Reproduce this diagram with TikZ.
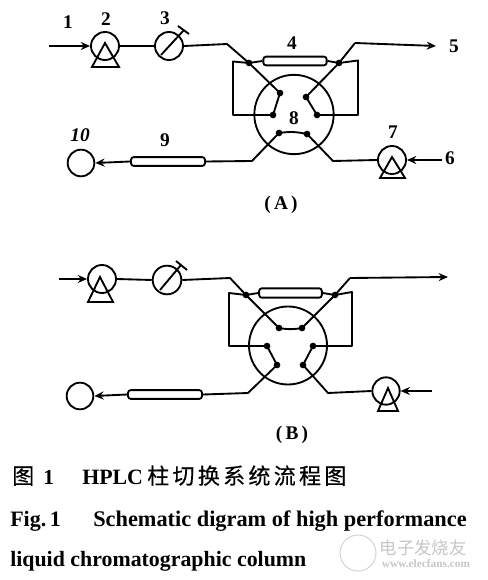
\documentclass[tikz,border=0pt]{standalone}
\usepackage{fontspec}
\setmainfont{Liberation Serif}
\newfontfamily\cjk[LetterSpace=15,FakeBold=0.4]{Noto Sans CJK SC}
\newfontfamily\cjkb[FakeBold=0.4]{Noto Sans CJK SC}
\newfontfamily\cjkw{Noto Sans CJK SC}
\usetikzlibrary{arrows.meta}
\tikzset{
  ln/.style={line width=1.4pt,line join=round},
  flow/.style={ln,-{Stealth[length=7pt,width=6pt]}},
  unit/.style={circle,draw,line width=1.4pt,inner sep=0pt,minimum size=#1},
  dotn/.style={circle,fill=black,inner sep=0pt,minimum size=5pt},
  col/.style={draw,line width=1.4pt,fill=white,rounded corners=2pt},
  lab/.style={font=\fontsize{14.5}{15}\selectfont\bfseries,inner sep=0pt},
  captxt/.style={anchor=base west,inner sep=0pt,font=\fontsize{16.5}{17}\selectfont\bfseries},
  wm/.style={text=black!22,inner sep=0pt}
}
\begin{document}
\begin{tikzpicture}[x=0.75pt,y=-0.75pt]
\useasboundingbox[fill=white] (0,0) rectangle (487,580);
% ---------- A ----------
\coordinate (Ain) at (49,46);
\node[unit=21pt] (Ap) at (105,46) {};
\draw[ln,line join=miter] (105,43) -- (92,67) -- (119,67) -- cycle;
\node[unit=21pt] (Am) at (169,46) {};
\coordinate (As1) at (161,55); \coordinate (As2) at (184,30);
\coordinate (At1) at (178,26); \coordinate (At2) at (189,34);
\draw[ln] (As1) -- (As2); \draw[ln] (At1) -- (At2);
\draw[flow] (Ain) -- (Ap.west);
\draw[ln] (Ap.east) -- (Am.west);
\node[unit=59.5pt] (Av) at (294,114.5) {};
\node[dotn] (Aa) at (280,93) {};
\node[dotn] (Ab) at (306,97) {};
\node[dotn] (Ac) at (273,115) {};
\node[dotn] (Ad) at (317,115) {};
\node[dotn] (Ae) at (279,133) {};
\node[dotn] (Af) at (307,134) {};
\node[dotn] (Ag) at (249,63) {};
\node[dotn] (Ah) at (339,63) {};
\coordinate (A1) at (227,44); \coordinate (A2) at (355,43); \coordinate (A5) at (436,46);
\coordinate (Abl) at (233,61.5); \coordinate (Abb) at (233,115);
\coordinate (Abr) at (358,60.5); \coordinate (Abc) at (358,115);
\draw[ln] (Am.east) -- (A1) -- (Ag.center) -- (Aa.center) -- (Ac.center) -- (Abb) -- (Abl) -- (Ag.center);
\draw[ln] (Ad.center) -- (Abc) -- (Abr) -- (Ah.center);
\draw[ln] (Ad.center) -- (Ab.center) -- (Ah.center) -- (A2);
\draw[flow] (A2) -- (A5);
\node[col,minimum width=47.5pt,minimum height=6.5pt,inner sep=0pt] (Ac4) at (295,61) {};
\draw[ln] (Ag.center) -- (Ac4.west) (Ac4.east) -- (Ah.center);
\draw[ln] (Ae.center) to[bend left=10] (Af.center);
\node[col,minimum width=55.5pt,minimum height=6.5pt,inner sep=0pt] (Ac9) at (168,161.5) {};
\node[unit=20pt] (Ad10) at (81,163) {};
\coordinate (A3) at (252,161); \coordinate (A4) at (333,161);
\draw[ln] (Ae.center) -- (A3) -- (Ac9.east);
\draw[flow] (Ac9.west) -- (Ad10.east);
\node[unit=21pt] (Ap7) at (392,160) {};
\draw[ln,line join=miter] (392,157) -- (380,178) -- (405,178) -- cycle;
\draw[ln] (Af.center) -- (A4) -- (Ap7.west);
\coordinate (A6) at (442,160);
\draw[flow] (A6) -- (Ap7.east);
\node[lab] (l1) at (68,22) {1};
\node[lab] (l2) at (106,19) {2};
\node[lab] (l3) at (165,18) {3};
\node[lab] (l4) at (292,43) {4};
\node[lab] (l5) at (454,46) {5};
\node[lab] (l6) at (450,158) {6};
\node[lab] (l7) at (393,132) {7};
\node[lab] (l8) at (294,118) {8};
\node[lab] (l9) at (165,140) {9};
\node[lab,font=\fontsize{14.5}{15}\selectfont\itshape\bfseries] (l10) at (80,135) {10};
\node[lab] (lA) at (281,205) {(\,A\,)};
% ---------- B ----------
\coordinate (Bin) at (59,279);
\node[unit=21pt] (Bp) at (102,279) {};
\draw[ln,line join=miter] (100,277) -- (88,302) -- (113,302) -- cycle;
\node[unit=21.5pt] (Bm) at (167,280) {};
\coordinate (Bs1) at (160,290); \coordinate (Bs2) at (181,265);
\coordinate (Bt1) at (176,261); \coordinate (Bt2) at (187,270);
\draw[ln] (Bs1) -- (Bs2); \draw[ln] (Bt1) -- (Bt2);
\draw[flow] (Bin) -- (Bp.west);
\draw[ln] (Bp.east) -- (Bm.west);
\node[unit=58.5pt] (Bv) at (288,345.5) {};
\node[dotn] (Ba) at (279,328) {};
\node[dotn] (Bb) at (302,328) {};
\node[dotn] (Bc) at (267,346) {};
\node[dotn] (Bd) at (313,346) {};
\node[dotn] (Be) at (277,365) {};
\node[dotn] (Bf) at (303,365) {};
\node[dotn] (Bg) at (246,295) {};
\node[dotn] (Bh) at (335,295) {};
\coordinate (B1) at (230,278); \coordinate (B2) at (350,278); \coordinate (B5) at (448,277);
\coordinate (Bbl) at (229,293); \coordinate (Bbb) at (229,346);
\coordinate (Bbr) at (352,292); \coordinate (Bbc) at (352,346);
\draw[ln] (Bm.east) -- (B1) -- (Bg.center) -- (Ba.center);
\draw[ln] (Bg.center) -- (Bbl) -- (Bbb) -- (Bc.center) -- (Be.center);
\draw[ln] (Bd.center) -- (Bbc) -- (Bbr) -- (Bh.center);
\draw[ln] (Bd.center) -- (Bf.center);
\draw[ln] (Bb.center) -- (Bh.center) -- (B2);
\draw[flow] (B2) -- (B5);
\node[col,minimum width=47pt,minimum height=7pt,inner sep=0pt] (Bc4) at (290.5,293) {};
\draw[ln] (Bg.center) -- (Bc4.west) (Bc4.east) -- (Bh.center);
\draw[ln] (Ba.center) to[bend right=10] (Bb.center);
\node[col,minimum width=55.5pt,minimum height=6.5pt,inner sep=0pt] (Bc9) at (165,394.5) {};
\node[unit=20pt] (Bd10) at (80,396) {};
\coordinate (B3) at (248,393); \coordinate (B4) at (328,393);
\draw[ln] (Be.center) -- (B3) -- (Bc9.east);
\draw[flow] (Bc9.west) -- (Bd10.east);
\node[unit=20.5pt] (Bp7) at (386,391) {};
\draw[ln,line join=miter] (388,388) -- (378,411) -- (398,411) -- cycle;
\draw[ln] (Bf.center) -- (B4) -- (Bp7.west);
\coordinate (B6) at (432,391);
\draw[flow] (B6) -- (Bp7.east);
\node[lab] (lB) at (292,435) {(\,B\,)};
% ---------- captions ----------
\node[captxt,font=\fontsize{16.5}{17}\selectfont\cjkb] (c0) at (12,484) {图};
\node[captxt,font=\fontsize{16}{17}\selectfont\bfseries] (c1) at (43,484) {1};
\node[captxt,font=\fontsize{16.4}{17}\selectfont\bfseries] (c2) at (82,484) {HPLC};
\node[captxt,font=\fontsize{16.5}{17}\selectfont\cjk] (c3) at (147,484) {柱切换系统流程图};
\node[captxt] (c4) at (10,526) {Fig.\,1};
\node[captxt,font=\fontsize{16.75}{17}\selectfont\bfseries] (c5) at (93,526) {Schematic digram of high performance};
\node[captxt,font=\fontsize{16.4}{17}\selectfont\bfseries] (c6) at (10,566) {liquid chromatographic column};
% ---------- watermark ----------
\node[circle,draw=black!18,line width=.7pt,minimum size=27pt,inner sep=0pt] (wc) at (358,553) {};
\node[wm,font=\fontsize{13}{13}\selectfont\cjkw] (w1) at (423,548) {电子发烧友};
\node[wm,font=\fontsize{8.5}{9}\selectfont\bfseries] (w2) at (426,564) {www.elecfans.com};
\end{tikzpicture}
\end{document}
